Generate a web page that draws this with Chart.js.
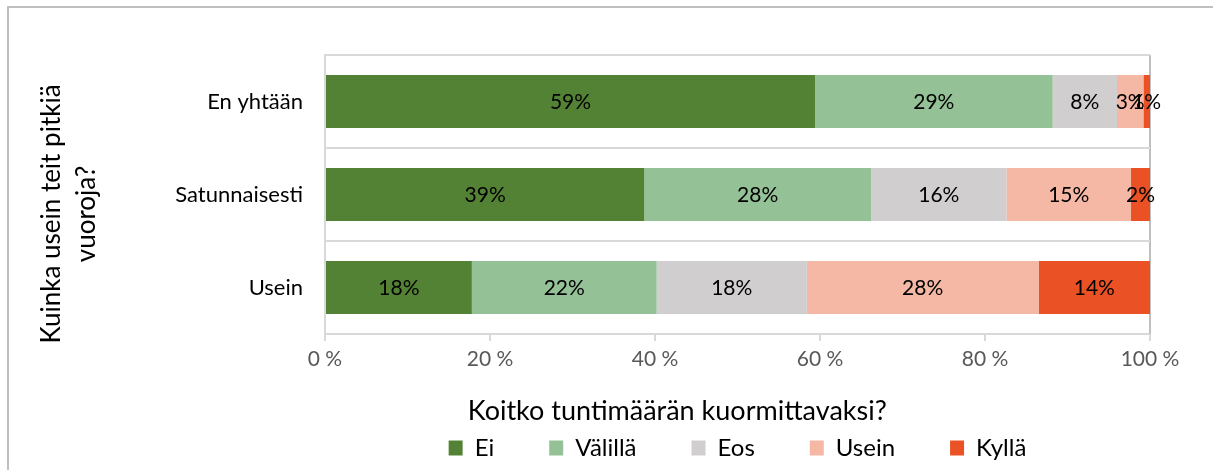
<!DOCTYPE html>
<html>
<head>
<meta charset="utf-8">
<script src="https://cdn.jsdelivr.net/npm/chart.js@4"></script>
<style>
  body { margin: 0; background: #fff; }
  #wrap { width: 1213px; height: 470px; position: relative; }
</style>
</head>
<body>
<div id="wrap"><canvas id="myChart"></canvas></div>
<script>
// kategoriat ja sarjat
var categories = ['En yhtään', 'Satunnaisesti', 'Usein'];
var seriesNames = ['Ei', 'Välillä', 'Eos', 'Usein', 'Kyllä'];
var ei      = [59.4, 38.7, 17.8];
var valilla = [28.8, 27.5, 22.4];
var eos     = [7.8, 16.4, 18.2];
var usein   = [3.2, 15.1, 28.1];
var kylla   = [0.8, 2.3, 13.5];
var xTicks = [0, 20, 40, 60, 80, 100];
var xTitle = 'Koitko tuntimäärän kuormittavaksi?';
var yTitle = ['Kuinka usein teit pitkiä', 'vuoroja?'];
var colors = ['#548235', '#95c197', '#d0cece', '#f5b8a5', '#ea5124'];

var FONT = 'Lato, "Open Sans", sans-serif';

// prosenttiluvut palkkien keskelle
var barLabels = {
    id: 'barLabels',
    afterDatasetsDraw: function (chart) {
        var c = chart.ctx;
        c.save();
        c.font = '21px ' + FONT;
        c.fillStyle = '#000';
        c.textAlign = 'center';
        c.textBaseline = 'middle';
        chart.data.datasets.forEach(function (ds, i) {
            chart.getDatasetMeta(i).data.forEach(function (bar, j) {
                c.fillText(Math.round(ds.data[j]) + '%', (bar.x + bar.base) / 2, bar.y + 1);
            });
        });
        c.restore();
    }
};

// kehys ja akselien otsikot
var frame = {
    id: 'frame',
    beforeDraw: function (chart) {
        var c = chart.ctx;
        c.save();
        c.strokeStyle = '#bfbfbf';
        c.lineWidth = 2;
        c.strokeRect(8, 7, 1300, 600);
        c.restore();
    },
    afterDraw: function (chart) {
        var c = chart.ctx, a = chart.chartArea;
        c.save();
        c.fillStyle = '#000';
        c.textAlign = 'center';
        c.textBaseline = 'middle';
        c.font = '27px ' + FONT;
        c.fillText(xTitle, a.left + a.width * 0.427, 411);
        c.translate(0, 214);
        c.rotate(-Math.PI / 2);
        c.font = '26px ' + FONT;
        c.fillText(yTitle[0], 0, 52);
        c.fillText(yTitle[1], 0, 87);
        c.restore();
    }
};

var ctx = document.getElementById('myChart').getContext('2d');
var myChart = new Chart(ctx, {
    type: 'bar',
    data: {
        labels: categories,
        datasets: [ei, valilla, eos, usein, kylla].map(function (d, i) {
            return {
                label: seriesNames[i],
                data: d,
                backgroundColor: colors[i],
                categoryPercentage: 1,
                barPercentage: 0.57
            };
        })
    },
    options: {
        indexAxis: 'y',
        responsive: true,
        maintainAspectRatio: false,
        animation: false,
        layout: { padding: { top: 55, right: 63, left: 0, bottom: 0 } },
        plugins: {
            legend: {
                position: 'bottom',
                fullSize: false,
                labels: {
                    boxWidth: 14,
                    boxHeight: 15,
                    padding: 55,
                    color: '#000',
                    font: { family: FONT, size: 24 }
                }
            },
            tooltip: { enabled: false }
        },
        scales: {
            x: {
                stacked: true,
                min: 0,
                max: 100,
                afterBuildTicks: function (s) { s.ticks = xTicks.map(function (v) { return { value: v }; }); },
                afterFit: function (s) { s.height = 47; },
                ticks: {
                    color: '#595959',
                    padding: 6,
                    font: { family: FONT, size: 21 },
                    callback: function (v) { return v + ' %'; }
                },
                grid: {
                    color: function (c) { return c.index === xTicks.length - 1 ? '#bfbfbf' : 'rgba(0,0,0,0)'; },
                    tickColor: '#d9d9d9',
                    tickLength: 7,
                    lineWidth: 2
                },
                border: { display: false }
            },
            y: {
                stacked: true,
                afterFit: function (s) { s.width = 325; },
                ticks: {
                    color: '#000',
                    padding: 22,
                    font: { family: FONT, size: 22 }
                },
                grid: {
                    offset: true,
                    color: '#d9d9d9',
                    lineWidth: 2,
                    drawTicks: false
                },
                border: { color: '#d9d9d9', width: 2 }
            }
        }
    },
    plugins: [barLabels, frame]
});
</script>
</body>
</html>
